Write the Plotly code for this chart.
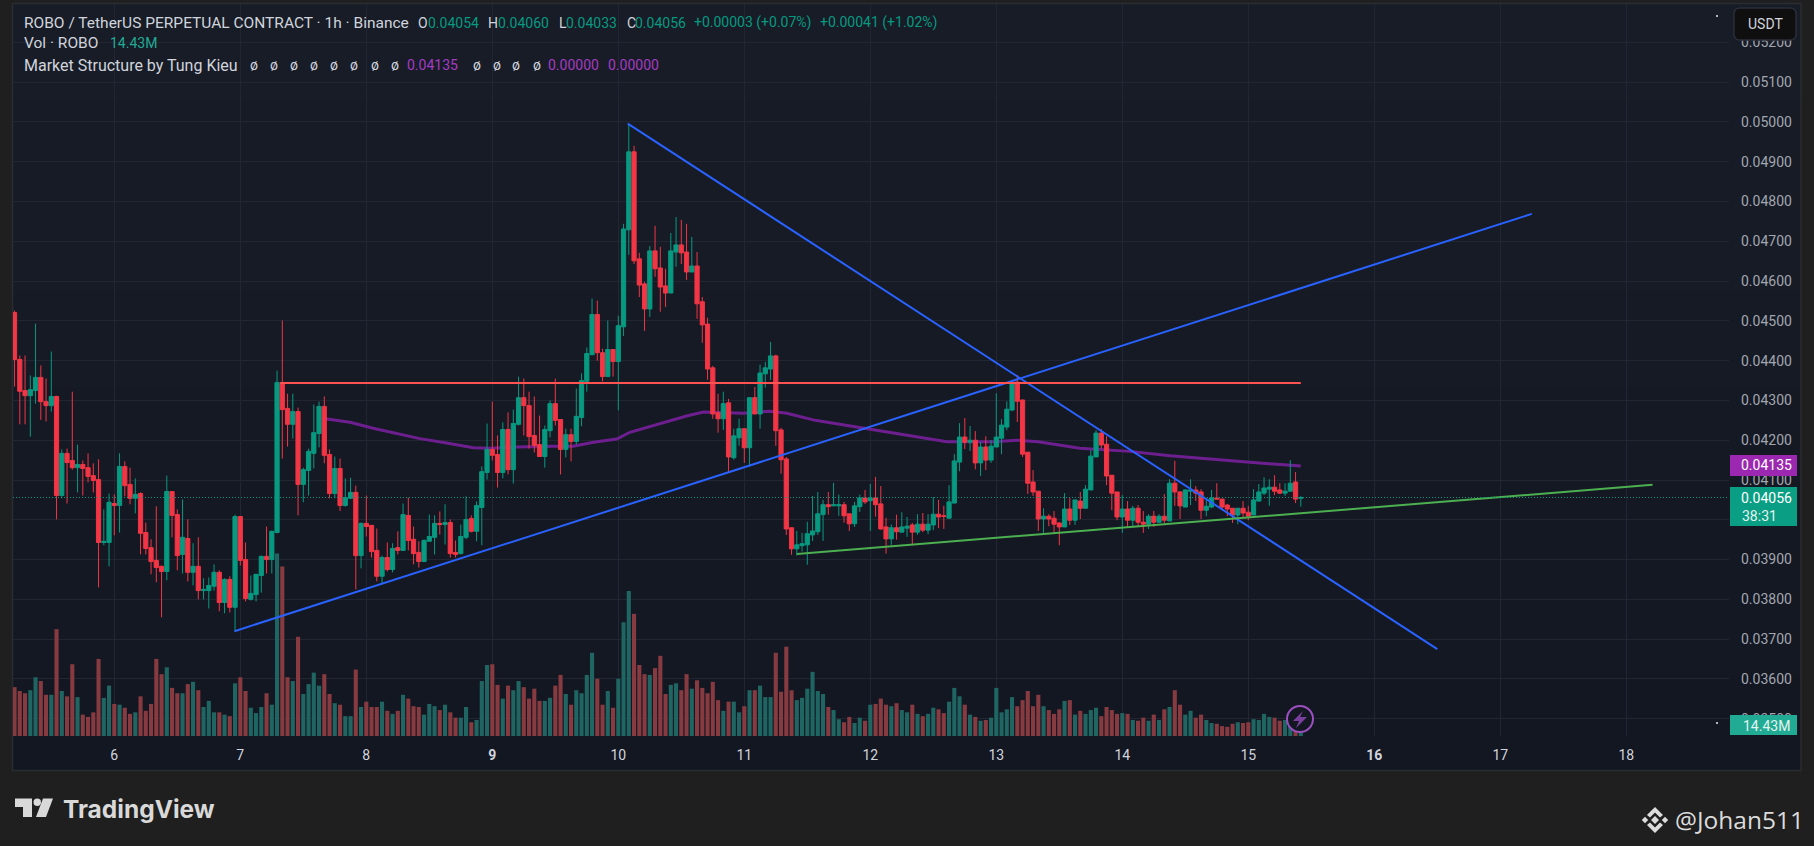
import plotly.graph_objects as go

# Prices are in units of 0.00001 USDT, one entry per hourly candle
OPEN = [
 4521,4403,4325,4312,4325,4358,4297,4287,4310,4061,4167,4149,4131,4139,4131,4111,4101,3943,3943,
 4041,4036,4134,4089,4054,4066,3968,3930,3898,3883,3870,4071,4013,3913,3953,3868,3883,3822,3822,3833,3868,3792,3850,3780,
 4008,3900,3800,3812,3860,3908,3900,3968,4345,4280,4240,4272,4089,4124,4167,4217,4285,4164,4066,4129,4036,4054,4069,3910,
 3991,3986,3923,3858,3905,3875,3930,3923,4011,3951,3918,3895,3946,3956,3991,3988,3993,3918,3915,3956,4003,3971,4031,4119,
 4177,4164,4119,4227,4126,4240,4307,4287,4212,4189,4159,4224,4292,4252,4177,4214,4197,4257,4348,4415,4516,4420,4360,4428,
 4398,4485,4729,4925,4656,4593,4530,4676,4633,4588,4570,4673,4691,4673,4623,4638,4548,4492,4382,4269,4254,4294,4156,4206,
 4229,4181,4307,4266,4367,4379,4412,4226,4153,3980,3927,3935,3937,3962,3970,4013,4038,4035,4035,4038,4015,3990,4033,4055,
 4048,4055,4040,3982,3952,3980,3969,3979,3987,3969,3989,3974,3987,4014,4010,4004,4042,4145,4208,4195,4200,4143,4183,4150,
 4183,4205,4233,4276,4346,4301,4170,4095,4072,4002,4009,4004,3992,3982,4027,3999,4047,4029,4075,4158,4218,4190,4112,4070,
 4007,4027,3999,4029,3994,3989,4009,3994,4009,3997,4092,4070,4032,4072,4075,4070,4024,4032,4055,4052,4037,4029,4012,4029,4019,4012,4047,4067,4077,4082,4075,4067,4072,4095,4054]
HIGH = [
 4526,4413,4413,4363,4493,4388,4355,4423,4312,4177,4179,4322,4189,4149,4167,4142,4152,4026,4066,
 4064,4167,4147,4131,4104,4069,3993,3951,4034,3885,4111,4071,4026,4051,4001,3941,3956,3853,3855,3888,3873,3853,3858,4013,
 4008,3943,3860,3863,3910,3983,3973,4375,4501,4317,4317,4282,4131,4179,4290,4297,4310,4177,4159,4154,4104,4106,4086,3993,
 4061,3986,3978,3910,3943,3941,3971,4041,4056,3983,3946,3951,4013,4011,4021,4039,4001,3948,3988,4059,4011,4046,4134,4242,
 4297,4212,4245,4270,4277,4360,4355,4322,4310,4262,4237,4300,4355,4252,4229,4229,4330,4368,4433,4556,4551,4430,4501,4428,
 4513,4744,4995,4940,4671,4598,4688,4739,4686,4631,4721,4761,4754,4744,4711,4673,4560,4508,4387,4317,4322,4304,4229,4254,
 4229,4307,4334,4390,4397,4447,4415,4231,4158,3980,3972,3967,3995,4060,4070,4050,4070,4093,4063,4045,4015,4045,4063,4075,
 4090,4108,4085,4005,3988,4013,4019,4007,3992,4014,4017,4014,4057,4050,4035,4087,4165,4243,4256,4236,4223,4195,4210,4200,
 4318,4253,4298,4351,4364,4303,4170,4125,4072,4029,4014,4022,3994,4067,4055,4050,4070,4087,4175,4225,4228,4210,4112,4070,
 4062,4047,4035,4037,4022,4014,4022,4014,4065,4102,4148,4072,4077,4102,4085,4077,4052,4075,4092,4052,4040,4029,4029,4047,4035,4077,4090,4107,4102,4112,4092,4092,4150,4120,4060]
LOW = [
 4335,4240,4240,4209,4292,4251,4247,4272,4001,4054,4041,4126,4069,4061,4094,4069,3830,3936,3883,
 3961,3968,4059,4039,4016,3913,3913,3863,3843,3755,3848,3956,3873,3865,3845,3835,3800,3800,3777,3822,3770,3765,3767,3719,
 3885,3795,3797,3795,3817,3865,3865,3966,4154,4184,4204,4011,4044,4061,4129,4182,4142,4054,4054,4022,4033,4053,3825,3878,
 3958,3905,3845,3840,3870,3868,3913,3923,3923,3888,3880,3895,3946,3913,3963,3938,3905,3905,3913,3951,3968,3946,3936,4101,
 4149,4081,4104,4114,4091,4237,4212,4179,4169,4159,4131,4207,4237,4114,4157,4147,4189,4235,4322,4415,4400,4348,4360,4360,
 4275,4462,4666,4643,4560,4475,4510,4611,4523,4535,4570,4636,4643,4603,4623,4505,4445,4352,4254,4219,4226,4121,4151,4186,
 4143,4133,4266,4229,4332,4352,4186,4116,3962,3912,3910,3920,3887,3947,3962,3947,4013,4035,4010,3993,3972,3982,4020,4040,
 3972,4008,3975,3915,3937,3950,3969,3957,3936,3962,3969,3964,3974,3979,3977,4004,4042,4122,4178,4173,4127,4110,4125,4143,
 4183,4165,4225,4273,4246,4158,4065,4060,3972,3967,3984,3967,3936,3982,3987,3987,4002,4029,4075,4158,4178,4087,4024,3999,
 3967,3982,3984,3984,3967,3977,3982,3992,3992,3997,4035,4002,4032,4037,4047,4002,4009,4029,4052,4027,4009,3992,3989,4007,3999,4012,4047,4062,4035,4062,4065,4060,4070,4042,4033]
CLOSE = [
 4403,4323,4312,4327,4358,4297,4287,4310,4061,4167,4144,4131,4139,4129,4109,4099,3943,3946,4044,
 4036,4134,4086,4054,4064,3966,3928,3895,3880,3870,4071,4011,3910,3956,3868,3883,3822,3825,3835,3868,3792,3850,3780,4008,
 3898,3802,3815,3863,3908,3900,3971,4345,4277,4240,4272,4089,4126,4172,4219,4285,4162,4066,4129,4036,4056,4069,3910,3991,
 3983,3920,3858,3905,3875,3928,3923,4013,3948,3915,3895,3948,3958,3991,3988,3993,3915,3913,3958,4001,3971,4036,4121,4177,
 4162,4119,4227,4126,4242,4307,4287,4209,4187,4159,4227,4292,4250,4177,4214,4197,4260,4350,4418,4516,4420,4360,4428,4398,
 4488,4731,4925,4651,4590,4530,4676,4631,4585,4570,4676,4691,4671,4623,4638,4543,4490,4379,4266,4254,4292,4158,4211,4229,
 4181,4307,4266,4369,4382,4412,4224,4151,3977,3927,3937,3940,3965,3972,4015,4038,4033,4038,4038,4010,3990,4035,4055,4045,
 4055,4038,3977,3952,3980,3970,3982,3984,3969,3989,3974,3989,4014,4007,4009,4045,4148,4208,4195,4200,4143,4183,4150,4185,
 4208,4238,4278,4344,4298,4165,4092,4070,4002,4009,4002,3989,3982,4027,3999,4050,4029,4077,4160,4218,4188,4110,4067,4007,
 4027,3999,4029,3994,3989,4009,3994,4009,3999,4092,4070,4035,4075,4075,4067,4024,4034,4055,4052,4032,4027,4012,4029,4017,4009,4050,4070,4080,4082,4072,4067,4072,4092,4052,4056]
# Volume in millions
VOLUME = [
 64,59,56,60,77,72,54,54,140,59,52,94,51,28,25,31,101,50,66,
 42,41,37,29,31,52,33,42,101,81,90,63,56,56,68,71,60,38,46,31,31,28,26,69,
 77,59,37,30,38,56,41,239,222,77,72,130,55,68,83,66,81,55,43,41,26,26,87,38,
 45,38,38,45,33,29,33,54,49,39,38,28,42,39,34,41,31,24,24,38,18,21,72,93,
 94,67,49,66,60,72,64,49,62,46,46,50,66,80,55,41,60,56,80,109,75,41,59,37,
 75,149,190,160,93,81,80,89,105,55,67,69,60,81,62,73,63,56,71,47,33,45,45,31,
 39,60,60,66,51,51,109,58,117,60,47,50,62,84,59,55,38,34,22,18,25,17,24,20,
 41,42,49,41,39,43,34,31,41,29,26,29,37,35,30,45,63,52,41,28,25,20,21,24,
 63,31,35,51,39,47,59,39,54,39,34,29,35,46,47,28,33,29,34,37,26,38,34,29,
 30,29,21,20,24,20,28,21,35,38,60,41,28,33,24,28,21,17,16,13,12,16,18,17,18,22,21,29,25,24,20,21,23,20,14.43]
assert len(OPEN) == len(HIGH) == len(LOW) == len(CLOSE) == len(VOLUME) == 246
# Hour index: 0 is the start of day 6
HOURS = list(range(-19, 227))

MA_HOURS = [39.5,43,44.9,49.3,53.8,58.2,63.3,68.4,71.6,76.7,83.6,87.4,91.3,95.7,98.2,104.6,109,112.2,119.8,124.9,128.1,133.5,142.6,149.7,158.6,167.5,171.9,176,183.9,193.4,201.1,215.7,226]
MA_VALUES = [4255,4248,4245,4230,4216,4204,4193,4181,4180,4183,4185,4185,4195,4203,4220,4245,4261,4271,4268,4273,4268,4250,4231,4216,4196,4196,4200,4196,4180,4172,4161,4145,4135]

RISE_HOURS, RISE_PRICES = [22.9, 270], [3720, 4769]
FALL_HOURS, FALL_PRICES = [97.8, 252], [4996, 3675]
RES_HOURS, RES_PRICES = [31.6, 226], [4344, 4344]
SUP_HOURS, SUP_PRICES = [130, 293], [3914, 4088]

LAST_PRICE = 4056
DAY_TICKS = [0, 24, 48, 72, 96, 120, 144, 168, 192, 216, 240, 264, 288]
DAY_LABELS = ["6", "7", "8", "<b>9</b>", "10", "11", "12", "13", "14", "15", "<b>16</b>", "17", "18"]

GREEN, RED, BLUE, PURPLE = "#089981", "#F23645", "#2962FF", "#9C27B0"
TXT, TICK, GRID = "#D1D4DC", "#A3A6AF", "#222632"
FONT = "Roboto"
W, H = 1814, 846
L, R, T, B = 13, 1729, 4, 736
X_RANGE = [-19.295, 307.56]
Y_RANGE = [0.034565, 0.052966]
VOL_RANGE = [0, 959]


def p(v):
    return [a / 1e5 for a in v]


def X(px):
    return (px - L) / (R - L)


def Y(py):
    return 1 - (py - T) / (B - T)


def rect(x0, y0, x1, y1, fill, line=None, layer="above", lw=1):
    return dict(type="rect", xref="paper", yref="paper", x0=X(x0), y0=Y(y0), x1=X(x1), y1=Y(y1),
                fillcolor=fill, line=dict(color=line or fill, width=lw if line else 0), layer=layer)


def poly(points, fill, line=None, lw=0):
    d = "M" + " L".join(f"{X(a):.5f},{Y(b):.5f}" for a, b in points) + " Z"
    return dict(type="path", xref="paper", yref="paper", path=d, fillcolor=fill,
                line=dict(color=line or fill, width=lw), layer="above")


def text(px, py, s, color=TXT, size=14, anchor="left", family=FONT):
    return dict(text=s, x=X(px), y=Y(py), xref="paper", yref="paper", xanchor=anchor, yanchor="middle",
                showarrow=False, borderpad=0, font=dict(family=family, size=size, color=color))


fig = go.Figure()
fig.add_trace(go.Scatter(x=MA_HOURS, y=p(MA_VALUES), mode="lines", yaxis="y",
                         line=dict(color="#6E1F8F", width=3), hoverinfo="skip", showlegend=False))
fig.add_trace(go.Bar(x=HOURS, y=VOLUME, yaxis="y2", showlegend=False,
                     marker=dict(color=["#1F6662" if c >= o else "#873A40" for o, c in zip(OPEN, CLOSE)], line_width=0)))
fig.add_trace(go.Candlestick(x=HOURS, open=p(OPEN), high=p(HIGH), low=p(LOW), close=p(CLOSE), yaxis="y3",
                             showlegend=False,
                             increasing=dict(line=dict(color=GREEN, width=1), fillcolor=GREEN),
                             decreasing=dict(line=dict(color=RED, width=1), fillcolor=RED)))
for xs, ys, col, wd in [(RISE_HOURS, RISE_PRICES, BLUE, 2), (FALL_HOURS, FALL_PRICES, BLUE, 2),
                        (RES_HOURS, RES_PRICES, "#FF5252", 2), (SUP_HOURS, SUP_PRICES, "#4CAF50", 2)]:
    fig.add_trace(go.Scatter(x=xs, y=p(ys), mode="lines", yaxis="y4", showlegend=False,
                             line=dict(color=col, width=wd), hoverinfo="skip"))
fig.add_trace(go.Scatter(x=X_RANGE, y=p([LAST_PRICE, LAST_PRICE]), mode="lines", yaxis="y4", showlegend=False,
                         line=dict(color=GREEN, width=1, dash="1px,2px"), hoverinfo="skip"))

shapes = [rect(0, 0, W, H, "#1F1F1F", layer="below")]
n = 8
top, bot = (23, 28, 39), (19, 23, 34)
for i in range(n):
    c = tuple(round(top[j] + (bot[j] - top[j]) * i / (n - 1)) for j in range(3))
    shapes.append(rect(13, 4 + i * 766 / n, 1801, 4 + (i + 1) * 766 / n, f"rgb{c}", layer="below"))
shapes.append(dict(type="rect", xref="paper", yref="paper", x0=X(12.5), y0=Y(3.5), x1=X(1801), y1=Y(770.5),
                   line=dict(color="#2B2C30", width=1.5), fillcolor="rgba(0,0,0,0)", layer="below"))
# price scale badges
shapes += [rect(1730, 455, 1797, 476, PURPLE), rect(1730, 487, 1797, 526, "#0A9E84"), rect(1730, 715, 1797, 735, "#22AB94")]
# currency button
bx0, bx1, by0, by1, rr = 1734, 1796, 8, 40, 6
shapes.append(dict(type="path", xref="paper", yref="paper", layer="above", fillcolor="#0F0F0F",
                   line=dict(color="#2A2E39", width=1.5),
                   path=(f"M{X(bx0+rr)},{Y(by0)} L{X(bx1-rr)},{Y(by0)} Q{X(bx1)},{Y(by0)} {X(bx1)},{Y(by0+rr)} "
                         f"L{X(bx1)},{Y(by1-rr)} Q{X(bx1)},{Y(by1)} {X(bx1-rr)},{Y(by1)} L{X(bx0+rr)},{Y(by1)} "
                         f"Q{X(bx0)},{Y(by1)} {X(bx0)},{Y(by1-rr)} L{X(bx0)},{Y(by0+rr)} Q{X(bx0)},{Y(by0)} {X(bx0+rr)},{Y(by0)} Z")))
# lightning icon
shapes.append(dict(type="circle", xref="paper", yref="paper", x0=X(1287), x1=X(1313), y0=Y(732), y1=Y(706),
                   fillcolor="#131722", line=dict(color="#9C4FC0", width=2), layer="above"))
shapes.append(poly([(1303, 711), (1293, 721), (1299, 721), (1296, 728), (1307, 717), (1300, 717)], "#7B3F9E"))
# small dots
shapes += [rect(1716, 15, 1718, 17, "#B2B5BE"), rect(1716, 722, 1718, 724, "#B2B5BE")]
# TradingView mark
LOGO = "#D9D9D9"
shapes.append(poly([(15, 798.5), (32, 798.5), (32, 817), (23, 817), (23, 807), (15, 807)], LOGO))
shapes.append(dict(type="circle", xref="paper", yref="paper", x0=X(33.5), x1=X(41), y0=Y(806), y1=Y(798.5),
                   fillcolor=LOGO, line=dict(width=0), layer="above"))
shapes.append(poly([(43, 798.5), (53, 798.5), (46, 817), (36, 817)], LOGO))
# Binance mark
cx, cy = 1655, 820
BN = "#DCDCDC"
for dx, dy, r in [(0, 0, 4), (-10, 0, 3.2), (10, 0, 3.2)]:
    shapes.append(poly([(cx + dx, cy + dy - r), (cx + dx + r, cy + dy), (cx + dx, cy + dy + r), (cx + dx - r, cy + dy)], BN))
for s in (-1, 1):
    shapes.append(poly([(cx, cy + s * 13), (cx + 8, cy + s * 5), (cx + 5, cy + s * 2.5), (cx, cy + s * 7.5),
                        (cx - 5, cy + s * 2.5), (cx - 8, cy + s * 5)], BN))

WORDS = 15.5
ann = [text(23, 23, "ROBO / TetherUS PERPETUAL CONTRACT · 1h · Binance", TXT, WORDS)]
for px_, s, col in [(417, "O", TXT), (427, "0.04054", GREEN),
                    (487, "H", TXT), (497, "0.04060", GREEN), (558, "L", TXT), (565, "0.04033", GREEN), (626, "C", TXT),
                    (634, "0.04056", GREEN), (693, "+0.00003 (+0.07%)", GREEN), (819, "+0.00041 (+1.02%)", GREEN)]:
    ann.append(text(px_, 23, s, col))
ann += [text(23, 43, "Vol · ROBO", TXT, WORDS), text(109, 43, "14.43M", "#22AB94")]
ann.append(text(23, 65, "Market Structure by Tung Kieu", TXT, 16))
for px_ in [249, 269, 289, 309, 329, 349, 370, 390, 472, 492, 511, 532]:
    ann.append(text(px_, 65, "ø"))
for px_, s in [(406, "0.04135"), (547, "0.00000"), (607, "0.00000")]:
    ann.append(text(px_, 65, s, "#A63BC4"))
ann += [text(1740, 465, "0.04135", "#FFFFFF"), text(1740, 497.5, "0.04056", "#FFFFFF"), text(1741, 516, "38:31", "#E4F3F0"),
        text(1742, 725.5, "14.43M", "#E4F3F0"), text(1765, 24, "USDT", TXT, 14, "center"),
        text(62, 809, "<b>TradingView</b>", LOGO, 24.5, family="Inter"),
        text(1674, 820, "@Johan511", "#DCDCDC", 24.5, family="Open Sans")]

common = dict(range=Y_RANGE, overlaying="y", side="right", showticklabels=False, showgrid=False, zeroline=False, fixedrange=True)
fig.update_layout(
    width=W, height=H, autosize=False, margin=dict(l=L, r=W - R, t=T, b=H - B, pad=0),
    paper_bgcolor="#1F1F1F", plot_bgcolor="rgba(0,0,0,0)", showlegend=False, hovermode=False,
    boxgap=0.2, boxgroupgap=0, bargap=0.22, dragmode=False,
    xaxis=dict(range=X_RANGE, tickmode="array", tickvals=DAY_TICKS, ticktext=DAY_LABELS, showgrid=True, gridcolor=GRID,
               gridwidth=1, zeroline=False, ticks="", ticklabelstandoff=9, rangeslider=dict(visible=False),
               tickfont=dict(family=FONT, size=14, color=TXT), showline=False, fixedrange=True),
    yaxis=dict(range=Y_RANGE, side="right", dtick=0.001, tick0=0.035, tickformat=".5f", showgrid=True, gridcolor=GRID,
               gridwidth=1, zeroline=False, ticks="", ticklabelstandoff=11, showline=False, fixedrange=True,
               tickfont=dict(family=FONT, size=14, color=TICK)),
    yaxis2=dict(range=VOL_RANGE, overlaying="y", side="right", showticklabels=False, showgrid=False, zeroline=False, fixedrange=True),
    yaxis3=common, yaxis4=common,
    shapes=shapes, annotations=ann,
)
fig.write_html("out.html", config=dict(displayModeBar=False),
               post_script="document.body.style.margin='0';document.body.style.background='#1F1F1F';")
